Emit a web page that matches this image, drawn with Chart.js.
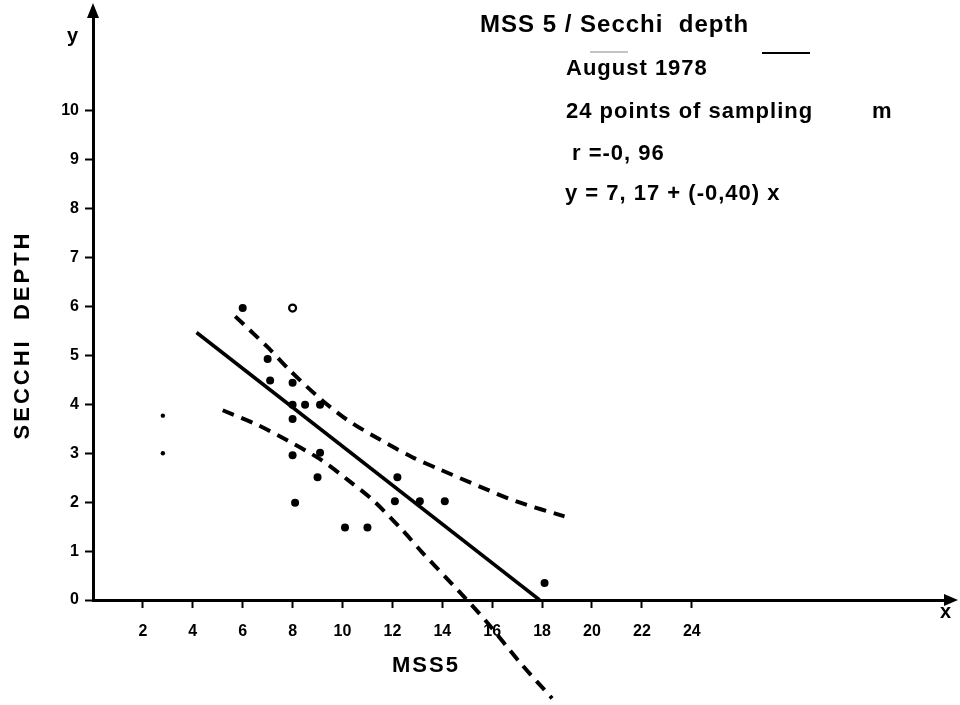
<!DOCTYPE html>
<html>
<head>
<meta charset="utf-8">
<script src="https://cdn.jsdelivr.net/npm/chart.js@4"></script>
<style>
  html, body { margin: 0; padding: 0; background: #fff; }
  #wrap { width: 960px; height: 705px; }
</style>
</head>
<body>
<div id="wrap"><canvas id="chart" width="960" height="705"></canvas></div>
<script>
// sampled points (MSS5, Secchi depth)
const sampleX = [6, 7, 7.1, 8, 8, 8.5, 9.1, 8, 8, 9.1, 9, 12.2, 8.1, 12.1, 10.1, 11, 13.1, 14.1, 18.1];
const sampleY = [5.97, 4.93, 4.49, 4.44, 3.99, 3.99, 3.99, 3.7, 2.96, 3.01, 2.51, 2.51, 1.99, 2.02, 1.48, 1.48, 2.02, 2.02, 0.35];
// open circle
const openX = [8];
const openY = [5.97];
// two small dots near the y axis
const smallX = [2.8, 2.8];
const smallY = [3.77, 3.0];

// regression line y = 7,17 + (-0,40) x (end points)
const regX = [4.15, 17.9];
const regY = [5.47, 0];

// confidence bands (dashed)
const upperX = [5.7, 7.0, 7.9, 9.1, 10.2, 11.5, 12.8, 13.9, 15.5, 17.0, 18.9];
const upperY = [5.8, 5.17, 4.69, 4.12, 3.68, 3.28, 2.92, 2.67, 2.32, 2.01, 1.71];
const lowerX = [5.2, 6.6, 7.8, 9.1, 10.2, 11.2, 12.4, 13.2, 14.7, 15.8, 17.1, 18.4];
const lowerY = [3.88, 3.58, 3.26, 2.88, 2.46, 2.05, 1.43, 0.97, 0.16, -0.46, -1.27, -2.01];

const xTicks = [2, 4, 6, 8, 10, 12, 14, 16, 18, 20, 22, 24];
const yTicks = [0, 1, 2, 3, 4, 5, 6, 7, 8, 9, 10];

const FONT = "'Liberation Sans', Arial, sans-serif";

function pts(xs, ys) {
  return xs.map((x, i) => ({ x: x, y: ys[i] }));
}

// text, arrows and small decorations
const annotations = {
  id: "annotations",
  afterDraw(chart) {
    const ctx = chart.ctx;
    const area = chart.chartArea;
    ctx.save();
    ctx.fillStyle = "#000";
    ctx.strokeStyle = "#000";

    // arrow heads
    ctx.beginPath();
    ctx.moveTo(area.left, 3);
    ctx.lineTo(area.left - 6, 18);
    ctx.lineTo(area.left + 6, 18);
    ctx.closePath();
    ctx.fill();
    ctx.beginPath();
    ctx.moveTo(958, area.bottom);
    ctx.lineTo(944, area.bottom - 6);
    ctx.lineTo(944, area.bottom + 6);
    ctx.closePath();
    ctx.fill();

    ctx.textBaseline = "alphabetic";
    ctx.textAlign = "left";

    ctx.font = "bold 24px " + FONT;
    ctx.letterSpacing = "1px";
    ctx.fillText("MSS 5 / Secchi  depth", 480, 32);

    ctx.font = "bold 22px " + FONT;
    ctx.letterSpacing = "1px";
    ctx.fillText("August 1978", 566, 75);
    ctx.fillText("24 points of sampling", 566, 118);
    ctx.fillText("m", 872, 118);
    ctx.fillText("r =-0, 96", 572, 160);
    ctx.fillText("y = 7, 17 + (-0,40) x", 565, 200);

    // short legend stroke next to title
    ctx.lineWidth = 2;
    ctx.beginPath();
    ctx.moveTo(762, 53);
    ctx.lineTo(810, 53);
    ctx.stroke();
    ctx.lineWidth = 1;
    ctx.strokeStyle = "#888";
    ctx.beginPath();
    ctx.moveTo(590, 52);
    ctx.lineTo(628, 52);
    ctx.stroke();

    // axis names
    ctx.font = "bold 20px " + FONT;
    ctx.letterSpacing = "0px";
    ctx.fillText("y", 67, 42);
    ctx.fillText("x", 940, 618);

    ctx.font = "bold 22px " + FONT;
    ctx.letterSpacing = "2px";
    ctx.fillText("MSS5", 392, 672);

    ctx.translate(29, 335);
    ctx.rotate(-Math.PI / 2);
    ctx.textAlign = "center";
    ctx.letterSpacing = "3px";
    ctx.fillText("SECCHI  DEPTH", 0, 0);
    ctx.restore();
  },
};

const ctx = document.getElementById("chart").getContext("2d");
new Chart(ctx, {
  type: "scatter",
  data: {
    datasets: [
      {
        label: "samples",
        data: pts(sampleX, sampleY),
        pointRadius: 4,
        pointBackgroundColor: "#000",
        pointBorderColor: "#000",
        pointBorderWidth: 0,
      },
      {
        label: "open",
        data: pts(openX, openY),
        pointRadius: 3.5,
        pointBackgroundColor: "#fff",
        pointBorderColor: "#000",
        pointBorderWidth: 2.2,
      },
      {
        label: "small",
        data: pts(smallX, smallY),
        pointRadius: 2.2,
        pointBackgroundColor: "#000",
        pointBorderWidth: 0,
      },
      {
        label: "regression",
        data: pts(regX, regY),
        showLine: true,
        borderColor: "#000",
        borderWidth: 3.5,
        pointRadius: 0,
      },
      {
        label: "upper",
        data: pts(upperX, upperY),
        showLine: true,
        borderColor: "#000",
        borderWidth: 4,
        borderDash: [12, 8],
        tension: 0.3,
        pointRadius: 0,
      },
      {
        label: "lower",
        data: pts(lowerX, lowerY),
        showLine: true,
        borderColor: "#000",
        borderWidth: 4,
        borderDash: [12, 8],
        tension: 0.3,
        pointRadius: 0,
        clip: false,
      },
    ],
  },
  options: {
    responsive: false,
    animation: false,
    layout: { padding: { left: 0, top: 6, right: 10, bottom: 0 } },
    plugins: {
      legend: { display: false },
      tooltip: { enabled: false },
    },
    scales: {
      x: {
        type: "linear",
        min: 0,
        max: 34.35,
        afterBuildTicks: (s) => {
          s.ticks = xTicks.map((v) => ({ value: v }));
        },
        afterFit: (s) => {
          s.height = 105;
        },
        ticks: {
          color: "#000",
          font: { family: FONT, size: 16, weight: "bold" },
          padding: 14,
          maxRotation: 0,
          autoSkip: false,
        },
        grid: {
          drawOnChartArea: false,
          tickLength: 8,
          tickWidth: 2,
          tickColor: "#000",
        },
        border: { color: "#000", width: 3 },
      },
      y: {
        type: "linear",
        min: 0,
        max: 11.95,
        afterBuildTicks: (s) => {
          s.ticks = yTicks.map((v) => ({ value: v }));
        },
        afterFit: (s) => {
          s.width = 93;
        },
        ticks: {
          color: "#000",
          font: { family: FONT, size: 16, weight: "bold" },
          padding: 6,
        },
        grid: {
          drawOnChartArea: false,
          tickLength: 8,
          tickWidth: 2,
          tickColor: "#000",
        },
        border: { color: "#000", width: 3 },
      },
    },
  },
  plugins: [annotations],
});
</script>
</body>
</html>
